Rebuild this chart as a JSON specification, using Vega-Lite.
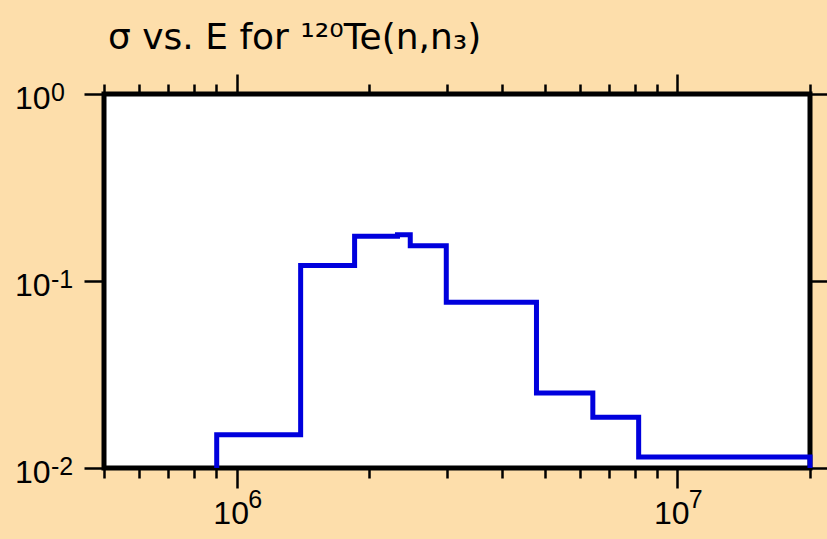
{
  "$schema": "https://vega.github.io/schema/vega-lite/v6.json",
  "autosize": "none",
  "width": 706,
  "height": 374,
  "padding": {"left": 104, "top": 94, "right": 17, "bottom": 71},
  "background": "#FDDEAB",
  "title": {
    "text": "σ vs. E for ¹²⁰Te(n,n₃)",
    "anchor": "start",
    "frame": "group",
    "font": "DejaVu Sans",
    "fontSize": 36,
    "fontWeight": "normal",
    "color": "#000000",
    "baseline": "alphabetic",
    "offset": 22,
    "dx": 4,
    "dy": 34
  },
  "config": {
    "view": {"stroke": "#000000", "strokeWidth": 5, "fill": "#FFFFFF"},
    "axis": {
      "grid": false,
      "domain": false,
      "title": null,
      "tickColor": "#000000",
      "tickWidth": 2.5,
      "labelColor": "#000000",
      "labelFont": "Liberation Sans",
      "labelFlush": false,
      "labelOverlap": false,
      "labelBound": false
    }
  },
  "data": {
    "values": [
      {"i": 1, "E": 901000, "sigma": 0.01},
      {"i": 2, "E": 901000, "sigma": 0.01505},
      {"i": 3, "E": 1397000, "sigma": 0.121},
      {"i": 4, "E": 1852000, "sigma": 0.1736},
      {"i": 5, "E": 2317000, "sigma": 0.1766},
      {"i": 6, "E": 2477000, "sigma": 0.1543},
      {"i": 7, "E": 2990000, "sigma": 0.077},
      {"i": 8, "E": 4790000, "sigma": 0.0252},
      {"i": 9, "E": 6430000, "sigma": 0.0187},
      {"i": 10, "E": 8170000, "sigma": 0.01145},
      {"i": 11, "E": 20000000, "sigma": 0.01145},
      {"i": 12, "E": 20000000, "sigma": 0.01}
    ]
  },
  "resolve": {"axis": {"x": "independent", "y": "independent"}},
  "layer": [
    {
      "mark": {"type": "line", "opacity": 0},
      "encoding": {
        "x": {"field": "E", "type": "quantitative", "scale": {"type": "log", "domain": [500000, 20000000], "nice": false},
          "axis": {"orient": "bottom", "values": [1000000, 10000000], "ticks": false, "tickSize": 0,
            "labelExpr": "datum.value >= 5000000 ? '7' : '6'", "labelAlign": "left", "labelOffset": 11,
            "labelBaseline": "alphabetic", "labelPadding": 39.5, "labelFontSize": 25}},
        "y": {"field": "sigma", "type": "quantitative", "scale": {"type": "log", "domain": [0.01, 1], "nice": false},
          "axis": {"orient": "left", "values": [1, 0.1, 0.01], "ticks": false, "tickSize": 0,
            "labelExpr": "datum.value >= 0.5 ? '0' : datum.value >= 0.05 ? '-1' : '-2'", "labelAlign": "left",
            "labelBaseline": "alphabetic", "labelPadding": 53.5, "labelOffset": 6.5, "labelFontSize": 25}},
        "order": {"field": "i", "type": "quantitative"}
      }
    },
    {
      "mark": {"type": "line", "opacity": 0},
      "encoding": {
        "x": {"field": "E", "type": "quantitative",
          "axis": {"orient": "bottom", "values": [500000, 600000, 700000, 800000, 900000, 2000000, 3000000, 4000000, 5000000, 6000000, 7000000, 8000000, 9000000, 20000000],
            "tickSize": 10, "labels": false}},
        "y": {"field": "sigma", "type": "quantitative",
          "axis": {"orient": "right", "values": [1, 0.1, 0.01], "tickSize": 17, "labels": false}},
        "order": {"field": "i", "type": "quantitative"}
      }
    },
    {
      "mark": {"type": "line", "opacity": 0},
      "encoding": {
        "x": {"field": "E", "type": "quantitative",
          "axis": {"orient": "top", "values": [1000000, 10000000], "tickSize": 20, "labels": false}},
        "y": {"field": "sigma", "type": "quantitative", "axis": null},
        "order": {"field": "i", "type": "quantitative"}
      }
    },
    {
      "mark": {"type": "line", "opacity": 0},
      "encoding": {
        "x": {"field": "E", "type": "quantitative",
          "axis": {"orient": "top", "values": [500000, 600000, 700000, 800000, 900000, 2000000, 3000000, 4000000, 5000000, 6000000, 7000000, 8000000, 9000000, 20000000],
            "tickSize": 10, "labels": false}},
        "y": {"field": "sigma", "type": "quantitative", "axis": null},
        "order": {"field": "i", "type": "quantitative"}
      }
    },
    {
      "mark": {"type": "line", "interpolate": "step-after", "color": "#0000DD", "strokeWidth": 5},
      "encoding": {
        "x": {"field": "E", "type": "quantitative",
          "axis": {"orient": "bottom", "values": [1000000, 10000000], "tickSize": 20,
            "labelExpr": "'10'", "labelAlign": "center", "labelOffset": -6,
            "labelBaseline": "alphabetic", "labelPadding": 35, "labelFontSize": 32}},
        "y": {"field": "sigma", "type": "quantitative",
          "axis": {"orient": "left", "values": [1, 0.1, 0.01], "tickSize": 20,
            "labelExpr": "'10'", "labelAlign": "right",
            "labelBaseline": "alphabetic", "labelPadding": 34, "labelOffset": 14.5, "labelFontSize": 32}},
        "order": {"field": "i", "type": "quantitative"}
      }
    }
  ]
}
